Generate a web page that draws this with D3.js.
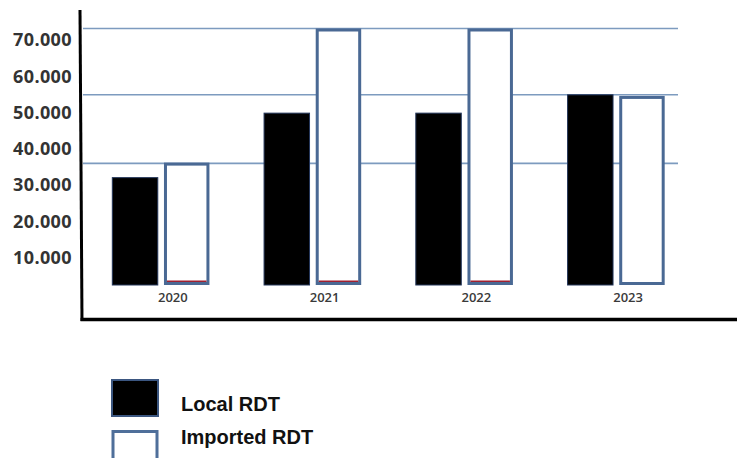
<!DOCTYPE html>
<html>
<head>
<meta charset="utf-8">
<script src="https://cdn.jsdelivr.net/npm/d3@7"></script>
<style>
  html, body { margin: 0; padding: 0; background: #ffffff; }
  svg { display: block; }
</style>
</head>
<body>
<svg id="chart" width="737" height="458"></svg>
<script>
// ---- data ----
const years = ["2020", "2021", "2022", "2023"];
const seriesNames = ["Local RDT", "Imported RDT"];
const localRDT = [29300, 46900, 46900, 51900];
const importedRDT = [33400, 70000, 70000, 51600];
const gridValues = [33200, 51900, 70000];
const tickValues = [10000, 20000, 30000, 40000, 50000, 60000, 70000];
const importedBaseMark = [true, true, true, false];

// ---- setup ----
const svg = d3.select("#chart");
const W = 737, H = 458;

const x = d3.scaleBand().domain(years).range([85, 692]).paddingInner(0.36).paddingOuter(0.18);
const xs = d3.scaleBand().domain(seriesNames).range([0, x.bandwidth()]).paddingInner(0.12);
const y = d3.scaleLinear().domain([0, 70000]).range([285, 28.5]);
const yLabel = d3.scaleLinear().domain([10000, 70000]).range([257.5, 40]);

const locale = d3.formatLocale({decimal: ",", thousands: ".", grouping: [3], currency: ["", ""]});
const fmt = locale.format(",");

// gridlines
svg.append("g").selectAll("line").data(gridValues).join("line")
  .attr("x1", 83).attr("x2", 678)
  .attr("y1", d => y(d)).attr("y2", d => y(d))
  .attr("stroke", "#7d9bbf").attr("stroke-width", 1.6);

// y tick labels
const yAxis = svg.append("g").attr("transform", "translate(72,0)")
  .call(d3.axisLeft(yLabel).tickValues(tickValues).tickSize(0).tickPadding(0).tickFormat(fmt));
yAxis.select(".domain").remove();
yAxis.selectAll("text")
  .attr("font-family", "'Open Sans', sans-serif")
  .attr("font-weight", "bold")
  .attr("font-size", 18)
  .attr("letter-spacing", 0.4)
  .attr("fill", "#333333");

// bars
const rows = years.map((yr, i) => ({year: yr, local: localRDT[i], imported: importedRDT[i], mark: importedBaseMark[i]}));
const groups = svg.append("g").selectAll("g").data(rows).join("g")
  .attr("transform", d => `translate(${x(d.year)},0)`);

groups.append("rect")
  .attr("x", xs("Local RDT"))
  .attr("y", d => y(d.local))
  .attr("width", xs.bandwidth())
  .attr("height", d => y(0) - y(d.local))
  .attr("fill", "#000000")
  .attr("stroke", "#24365a").attr("stroke-width", 1);

groups.append("rect")
  .attr("x", xs("Imported RDT") + 1.5)
  .attr("y", d => y(d.imported) + 1.5)
  .attr("width", xs.bandwidth() - 3)
  .attr("height", d => y(0) - y(d.imported) - 3)
  .attr("fill", "#ffffff")
  .attr("stroke", "#4a6994").attr("stroke-width", 3);

groups.filter(d => d.mark).append("line")
  .attr("x1", xs("Imported RDT") + 3).attr("x2", xs("Imported RDT") + xs.bandwidth() - 3)
  .attr("y1", y(0) - 3.8).attr("y2", y(0) - 3.8)
  .attr("stroke", "#a02030").attr("stroke-width", 1.4);

// year labels
svg.append("g").selectAll("text").data(years).join("text")
  .attr("x", d => x(d) + x.bandwidth() / 2 + 12)
  .attr("y", 302)
  .attr("text-anchor", "middle")
  .attr("font-family", "'Open Sans', sans-serif")
  .attr("font-size", 13)
  .attr("font-weight", 600)
  .attr("fill", "#3a3a3a")
  .text(d => d);

// axes lines
svg.append("line").attr("x1", 80).attr("y1", 10).attr("x2", 82).attr("y2", 321)
  .attr("stroke", "#000").attr("stroke-width", 3);
svg.append("line").attr("x1", 80.5).attr("y1", 319.5).attr("x2", W).attr("y2", 319.5)
  .attr("stroke", "#000").attr("stroke-width", 3.5);

// legend
const legend = svg.append("g");
legend.append("rect").attr("x", 112).attr("y", 380).attr("width", 46).attr("height", 36)
  .attr("fill", "#000").attr("stroke", "#3b5680").attr("stroke-width", 2);
legend.append("rect").attr("x", 113).attr("y", 431.5).attr("width", 44).attr("height", 40)
  .attr("fill", "#fff").attr("stroke", "#4f6f9a").attr("stroke-width", 3);
legend.selectAll("text.lg").data(seriesNames).join("text")
  .attr("class", "lg")
  .attr("x", 181)
  .attr("y", (d, i) => i === 0 ? 411 : 444)
  .attr("font-family", "'Liberation Sans', Arial, sans-serif")
  .attr("font-weight", "bold")
  .attr("font-size", 20)
  .attr("fill", "#111")
  .text(d => d);
</script>
</body>
</html>
